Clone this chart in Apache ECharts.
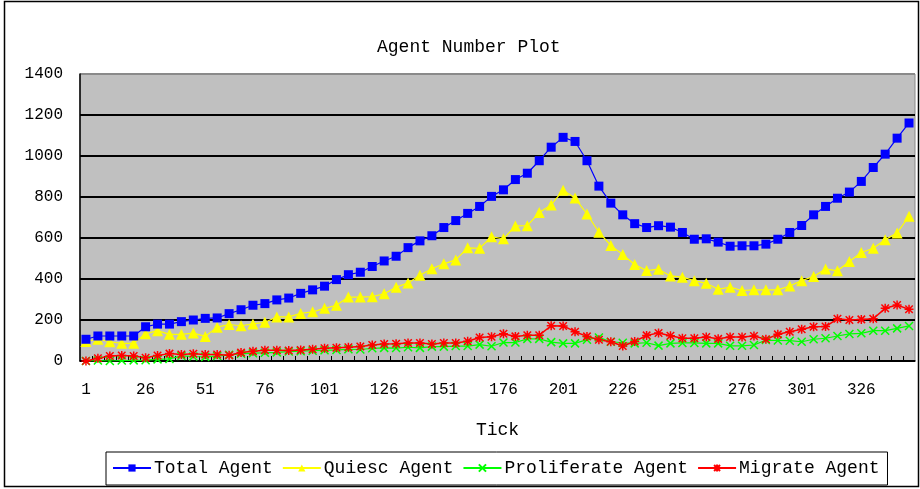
<!DOCTYPE html>
<html>
<head>
<meta charset="utf-8">
<script src="https://cdn.jsdelivr.net/npm/echarts@6/dist/echarts.min.js"></script>
<style>
html,body{margin:0;padding:0;background:#fff;}
#main{width:920px;height:489px;}
</style>
</head>
<body>
<div id="main"></div>
<script>
// tick labels: every 5th step, 1..346
var ticks = [];
for (var i = 0; i < 70; i++) { ticks.push(String(1 + 5 * i)); }

var totalAgent = [
	106,122,122,122,122,167,180,180,192,200,
	208,210,231,250,272,280,298,307,330,347,
	365,397,421,433,461,488,511,553,586,611,
	651,685,720,754,803,835,885,916,977,1043,
	1091,1071,977,853,770,713,670,651,660,653,
	627,594,596,580,560,562,562,570,594,627,
	661,713,754,794,824,876,944,1009,1087,1161
];
var quiescAgent = [
	95,106,94,86,86,133,148,130,130,136,
	120,165,178,172,181,189,215,215,232,240,
	257,272,312,312,314,328,360,381,418,450,
	474,493,552,550,606,596,659,660,724,761,
	833,795,717,628,564,519,471,441,448,415,
	409,392,379,350,360,344,347,347,347,366,
	392,412,449,440,485,529,550,591,625,706
];
var proliferateAgent = [
	0,2,0,2,3,4,8,10,25,22,
	20,24,30,35,38,40,42,46,48,50,
	52,54,57,56,62,64,63,67,64,70,
	70,73,73,80,72,90,90,108,108,92,
	86,86,104,115,94,89,86,89,75,86,
	88,88,86,86,74,74,78,102,100,99,
	94,106,111,122,132,135,148,148,159,171
];
var migrateAgent = [
	0,13,24,27,24,16,27,36,32,35,
	32,32,28,41,47,52,52,51,54,57,
	62,65,67,71,78,83,84,88,88,83,
	88,88,96,115,118,133,120,126,126,172,
	171,143,120,104,94,73,95,125,137,123,
	111,111,117,108,117,117,122,106,130,143,
	155,167,168,206,200,203,206,257,273,252
];
var yTicks = [0, 200, 400, 600, 800, 1000, 1200, 1400];

var FONT = 'Liberation Mono';
var crossPath = 'path://M0,0L10,10M10,0L0,10';
var starPath = 'path://M0,0L10,10M10,0L0,10M5,-1L5,11M-1,5L11,5';

// x axis tick marks between categories (axisTick does not show here)
var tickMarks = [];
for (var k = 0; k < ticks.length - 1; k++) { tickMarks.push([k, 0]); }

var option = {
	backgroundColor: '#fff',
	animation: false,
	title: {
		text: 'Agent Number Plot',
		left: 372,
		top: 33,
		textStyle: {fontFamily: FONT, fontSize: 18, fontWeight: 'normal', color: '#000'}
	},
	legend: {
		data: ['Total Agent', 'Quiesc Agent', 'Proliferate Agent', 'Migrate Agent'],
		left: 106,
		top: 452,
		padding: [7, 8, 8, 6],
		itemGap: 9,
		itemWidth: 38,
		itemHeight: 9,
		borderColor: '#000',
		borderWidth: 1,
		backgroundColor: '#fff',
		textStyle: {fontFamily: FONT, fontSize: 18, color: '#000', padding: [0, 0, 0, -2]}
	},
	grid: {
		left: 80, top: 74, width: 835, height: 287,
		show: true,
		backgroundColor: '#C0C0C0',
		borderColor: '#8a8a8a',
		borderWidth: 1
	},
	xAxis: {
		type: 'category',
		data: ticks,
		boundaryGap: true,
		name: 'Tick',
		nameLocation: 'middle',
		nameGap: 60,
		nameTextStyle: {fontFamily: FONT, fontSize: 18, color: '#000'},
		axisLine: {show: true, lineStyle: {color: '#000', width: 1.5}},
		axisTick: {show: false},
		axisLabel: {interval: 4, margin: 21, fontFamily: FONT, fontSize: 16, color: '#000'},
		splitLine: {show: false}
	},
	yAxis: {
		type: 'value',
		min: yTicks[0],
		max: yTicks[yTicks.length - 1],
		interval: 200,
		axisLine: {show: true, lineStyle: {color: '#000', width: 1.5}},
		axisTick: {show: false},
		axisLabel: {
			margin: 17, fontFamily: FONT, fontSize: 16, color: '#000',
			formatter: function (v) { return String(v); }
		},
		splitLine: {lineStyle: {color: ['#000','#000','#000','#000','#000','#000','#000','#8a8a8a'], width: 2}}
	},
	series: [
		{
			name: 'ticks', type: 'custom', data: tickMarks,
			encode: {x: 0, y: 1},
			silent: true,
			z: 1,
			renderItem: function (params, api) {
				var p = api.coord([api.value(0), 0]);
				var w = api.size([1, 0])[0];
				var x = Math.round(p[0] + w / 2) + 0.5;
				return {
					type: 'line',
					shape: {x1: x, y1: p[1], x2: x, y2: p[1] - 5},
					style: {stroke: '#000', lineWidth: 1}
				};
			}
		},
		{
			name: 'Total Agent', type: 'line', data: totalAgent,
			symbol: 'rect', symbolSize: 9, showAllSymbol: true,
			itemStyle: {color: '#0000FF'},
			lineStyle: {color: '#0000FF', width: 1.2},
			z: 5
		},
		{
			name: 'Quiesc Agent', type: 'line', data: quiescAgent,
			symbol: 'triangle', symbolSize: 11, showAllSymbol: true,
			itemStyle: {color: '#FFFF00'},
			lineStyle: {color: '#FFFF00', width: 1.2},
			z: 4
		},
		{
			name: 'Proliferate Agent', type: 'line', data: proliferateAgent,
			symbol: crossPath, symbolSize: 8, showAllSymbol: true,
			itemStyle: {color: '#00FF00', borderColor: '#00FF00', borderWidth: 1.5},
			lineStyle: {color: '#00FF00', width: 1.2},
			z: 3
		},
		{
			name: 'Migrate Agent', type: 'line', data: migrateAgent,
			symbol: starPath, symbolSize: 9, showAllSymbol: true,
			itemStyle: {color: '#FF0000', borderColor: '#FF0000', borderWidth: 1.5},
			lineStyle: {color: '#FF0000', width: 1.5},
			z: 3
		}
	],
	graphic: [
		{
			type: 'rect',
			shape: {x: 4.5, y: 1.5, width: 914, height: 485},
			style: {fill: null, stroke: '#000', lineWidth: 1.5},
			silent: true,
			z: -1
		}
	]
};

echarts.init(document.getElementById('main')).setOption(option);
</script>
</body>
</html>
